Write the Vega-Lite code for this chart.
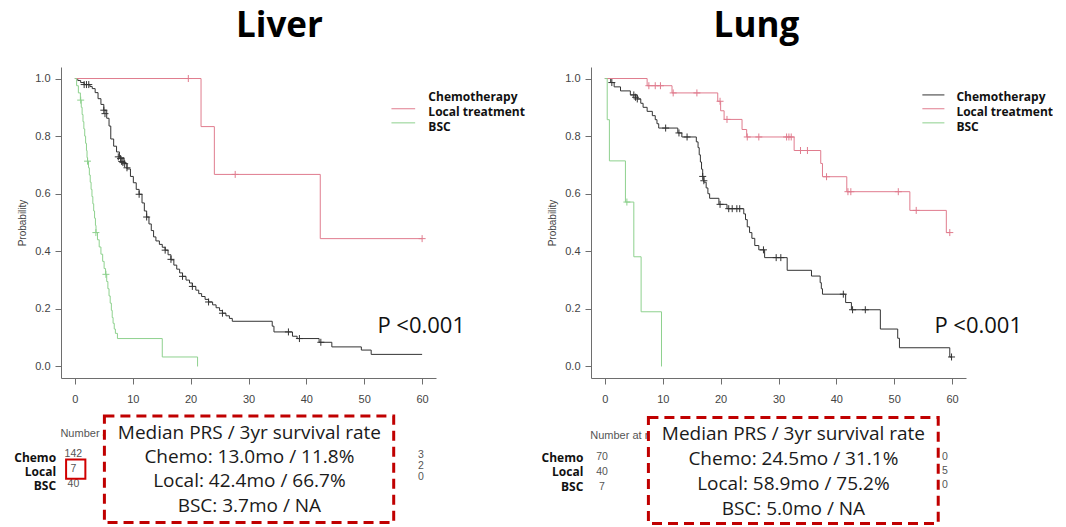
{
  "$schema": "https://vega.github.io/schema/vega-lite/v6.json",
  "background": "white",
  "padding": {"left": 14, "top": 8, "right": 0, "bottom": 0},
  "spacing": 155,
  "bounds": "flush",
  "config": {
    "view": {"stroke": null},
    "font": "Liberation Sans",
    "axis": {"grid": false, "domainColor": "#6e6e6e", "tickColor": "#6e6e6e", "tickSize": 6, "labelColor": "#444444", "labelFont": "Liberation Sans", "labelFontSize": 11, "titleFont": "Liberation Sans", "titleFontWeight": "normal", "titleColor": "#444444", "titleFontSize": 10, "labelFlush": false}
  },
  "datasets": {
    "liverCurves": [
      {"g": "Chemotherapy", "t": 0, "s": 1}, {"g": "Chemotherapy", "t": 0.5, "s": 0.993}, {"g": "Chemotherapy", "t": 1.0, "s": 0.986}, {"g": "Chemotherapy", "t": 1.6, "s": 0.979}, {"g": "Chemotherapy", "t": 2.6, "s": 0.972}, {"g": "Chemotherapy", "t": 3.0, "s": 0.965}, {"g": "Chemotherapy", "t": 3.5, "s": 0.951}, {"g": "Chemotherapy", "t": 4.0, "s": 0.93}, {"g": "Chemotherapy", "t": 4.5, "s": 0.91}, {"g": "Chemotherapy", "t": 5.0, "s": 0.89}, {"g": "Chemotherapy", "t": 5.5, "s": 0.862}, {"g": "Chemotherapy", "t": 5.9, "s": 0.835}, {"g": "Chemotherapy", "t": 6.2, "s": 0.79}, {"g": "Chemotherapy", "t": 6.7, "s": 0.765}, {"g": "Chemotherapy", "t": 7.2, "s": 0.745}, {"g": "Chemotherapy", "t": 7.7, "s": 0.725}, {"g": "Chemotherapy", "t": 8.5, "s": 0.705}, {"g": "Chemotherapy", "t": 9.0, "s": 0.686}, {"g": "Chemotherapy", "t": 9.6, "s": 0.66}, {"g": "Chemotherapy", "t": 10.1, "s": 0.638}, {"g": "Chemotherapy", "t": 10.6, "s": 0.615}, {"g": "Chemotherapy", "t": 11.1, "s": 0.598}, {"g": "Chemotherapy", "t": 11.6, "s": 0.568}, {"g": "Chemotherapy", "t": 12.0, "s": 0.54}, {"g": "Chemotherapy", "t": 12.4, "s": 0.519}, {"g": "Chemotherapy", "t": 12.8, "s": 0.495}, {"g": "Chemotherapy", "t": 13.2, "s": 0.472}, {"g": "Chemotherapy", "t": 13.6, "s": 0.45}, {"g": "Chemotherapy", "t": 14.0, "s": 0.436}, {"g": "Chemotherapy", "t": 14.6, "s": 0.424}, {"g": "Chemotherapy", "t": 15.1, "s": 0.414}, {"g": "Chemotherapy", "t": 15.6, "s": 0.404}, {"g": "Chemotherapy", "t": 16.1, "s": 0.388}, {"g": "Chemotherapy", "t": 16.6, "s": 0.37}, {"g": "Chemotherapy", "t": 17.1, "s": 0.352}, {"g": "Chemotherapy", "t": 17.6, "s": 0.338}, {"g": "Chemotherapy", "t": 18.1, "s": 0.325}, {"g": "Chemotherapy", "t": 18.6, "s": 0.313}, {"g": "Chemotherapy", "t": 19.2, "s": 0.3}, {"g": "Chemotherapy", "t": 19.8, "s": 0.29}, {"g": "Chemotherapy", "t": 20.3, "s": 0.278}, {"g": "Chemotherapy", "t": 20.9, "s": 0.265}, {"g": "Chemotherapy", "t": 21.4, "s": 0.253}, {"g": "Chemotherapy", "t": 21.9, "s": 0.243}, {"g": "Chemotherapy", "t": 22.5, "s": 0.233}, {"g": "Chemotherapy", "t": 23.1, "s": 0.224}, {"g": "Chemotherapy", "t": 23.8, "s": 0.214}, {"g": "Chemotherapy", "t": 24.4, "s": 0.204}, {"g": "Chemotherapy", "t": 25.0, "s": 0.194}, {"g": "Chemotherapy", "t": 25.5, "s": 0.185}, {"g": "Chemotherapy", "t": 26.1, "s": 0.176}, {"g": "Chemotherapy", "t": 26.7, "s": 0.167}, {"g": "Chemotherapy", "t": 27.2, "s": 0.157}, {"g": "Chemotherapy", "t": 34.1, "s": 0.14}, {"g": "Chemotherapy", "t": 34.4, "s": 0.12}, {"g": "Chemotherapy", "t": 37.6, "s": 0.105}, {"g": "Chemotherapy", "t": 38.4, "s": 0.097}, {"g": "Chemotherapy", "t": 42.2, "s": 0.084}, {"g": "Chemotherapy", "t": 44.4, "s": 0.068}, {"g": "Chemotherapy", "t": 49.5, "s": 0.057}, {"g": "Chemotherapy", "t": 51.2, "s": 0.042}, {"g": "Chemotherapy", "t": 60, "s": 0.042},
      {"g": "Local treatment", "t": 0, "s": 1}, {"g": "Local treatment", "t": 21.8, "s": 0.833}, {"g": "Local treatment", "t": 24.1, "s": 0.667}, {"g": "Local treatment", "t": 42.4, "s": 0.444}, {"g": "Local treatment", "t": 60, "s": 0.444},
      {"g": "BSC", "t": 0, "s": 1}, {"g": "BSC", "t": 0.3, "s": 0.975}, {"g": "BSC", "t": 0.6, "s": 0.95}, {"g": "BSC", "t": 0.95, "s": 0.925}, {"g": "BSC", "t": 1.1, "s": 0.9}, {"g": "BSC", "t": 1.25, "s": 0.875}, {"g": "BSC", "t": 1.4, "s": 0.85}, {"g": "BSC", "t": 1.55, "s": 0.825}, {"g": "BSC", "t": 1.7, "s": 0.8}, {"g": "BSC", "t": 1.85, "s": 0.775}, {"g": "BSC", "t": 2.0, "s": 0.75}, {"g": "BSC", "t": 2.1, "s": 0.725}, {"g": "BSC", "t": 2.2, "s": 0.713}, {"g": "BSC", "t": 2.35, "s": 0.69}, {"g": "BSC", "t": 2.5, "s": 0.665}, {"g": "BSC", "t": 2.65, "s": 0.64}, {"g": "BSC", "t": 2.8, "s": 0.615}, {"g": "BSC", "t": 2.95, "s": 0.59}, {"g": "BSC", "t": 3.1, "s": 0.565}, {"g": "BSC", "t": 3.25, "s": 0.54}, {"g": "BSC", "t": 3.4, "s": 0.515}, {"g": "BSC", "t": 3.55, "s": 0.49}, {"g": "BSC", "t": 3.65, "s": 0.465}, {"g": "BSC", "t": 3.9, "s": 0.44}, {"g": "BSC", "t": 4.2, "s": 0.415}, {"g": "BSC", "t": 4.5, "s": 0.39}, {"g": "BSC", "t": 4.8, "s": 0.365}, {"g": "BSC", "t": 5.05, "s": 0.34}, {"g": "BSC", "t": 5.3, "s": 0.32}, {"g": "BSC", "t": 5.5, "s": 0.295}, {"g": "BSC", "t": 5.7, "s": 0.27}, {"g": "BSC", "t": 5.9, "s": 0.245}, {"g": "BSC", "t": 6.1, "s": 0.22}, {"g": "BSC", "t": 6.3, "s": 0.195}, {"g": "BSC", "t": 6.45, "s": 0.17}, {"g": "BSC", "t": 6.6, "s": 0.15}, {"g": "BSC", "t": 6.8, "s": 0.13}, {"g": "BSC", "t": 7.0, "s": 0.115}, {"g": "BSC", "t": 7.35, "s": 0.097}, {"g": "BSC", "t": 15.1, "s": 0.033}, {"g": "BSC", "t": 21.2, "s": 0.0}
    ],
    "liverCensor": [
      {"g": "Chemotherapy", "t": 1.6, "s": 0.979}, {"g": "Chemotherapy", "t": 2.0, "s": 0.979}, {"g": "Chemotherapy", "t": 2.4, "s": 0.979}, {"g": "Chemotherapy", "t": 5.0, "s": 0.89}, {"g": "Chemotherapy", "t": 5.2, "s": 0.878}, {"g": "Chemotherapy", "t": 7.5, "s": 0.728}, {"g": "Chemotherapy", "t": 7.9, "s": 0.722}, {"g": "Chemotherapy", "t": 8.1, "s": 0.712}, {"g": "Chemotherapy", "t": 8.3, "s": 0.708}, {"g": "Chemotherapy", "t": 8.6, "s": 0.704}, {"g": "Chemotherapy", "t": 9.0, "s": 0.69}, {"g": "Chemotherapy", "t": 11.1, "s": 0.598}, {"g": "Chemotherapy", "t": 12.4, "s": 0.519}, {"g": "Chemotherapy", "t": 15.6, "s": 0.404}, {"g": "Chemotherapy", "t": 16.6, "s": 0.372}, {"g": "Chemotherapy", "t": 18.6, "s": 0.313}, {"g": "Chemotherapy", "t": 20.3, "s": 0.278}, {"g": "Chemotherapy", "t": 23.1, "s": 0.224}, {"g": "Chemotherapy", "t": 25.5, "s": 0.185}, {"g": "Chemotherapy", "t": 36.9, "s": 0.12}, {"g": "Chemotherapy", "t": 38.8, "s": 0.097}, {"g": "Chemotherapy", "t": 42.5, "s": 0.084},
      {"g": "Local treatment", "t": 19.6, "s": 1.0}, {"g": "Local treatment", "t": 27.7, "s": 0.667}, {"g": "Local treatment", "t": 60, "s": 0.444},
      {"g": "BSC", "t": 1.0, "s": 0.925}, {"g": "BSC", "t": 2.18, "s": 0.713}, {"g": "BSC", "t": 3.63, "s": 0.465}, {"g": "BSC", "t": 5.36, "s": 0.32}
    ],
    "lungCurves": [
      {"g": "Chemotherapy", "t": 0, "s": 1}, {"g": "Chemotherapy", "t": 1.0, "s": 0.986}, {"g": "Chemotherapy", "t": 1.6, "s": 0.971}, {"g": "Chemotherapy", "t": 2.7, "s": 0.957}, {"g": "Chemotherapy", "t": 4.4, "s": 0.943}, {"g": "Chemotherapy", "t": 5.6, "s": 0.929}, {"g": "Chemotherapy", "t": 6.2, "s": 0.914}, {"g": "Chemotherapy", "t": 6.6, "s": 0.9}, {"g": "Chemotherapy", "t": 7.3, "s": 0.886}, {"g": "Chemotherapy", "t": 8.2, "s": 0.871}, {"g": "Chemotherapy", "t": 8.7, "s": 0.857}, {"g": "Chemotherapy", "t": 9.0, "s": 0.843}, {"g": "Chemotherapy", "t": 9.3, "s": 0.828}, {"g": "Chemotherapy", "t": 12.6, "s": 0.811}, {"g": "Chemotherapy", "t": 13.3, "s": 0.797}, {"g": "Chemotherapy", "t": 15.8, "s": 0.78}, {"g": "Chemotherapy", "t": 16.1, "s": 0.76}, {"g": "Chemotherapy", "t": 16.3, "s": 0.735}, {"g": "Chemotherapy", "t": 16.5, "s": 0.71}, {"g": "Chemotherapy", "t": 16.7, "s": 0.685}, {"g": "Chemotherapy", "t": 16.9, "s": 0.66}, {"g": "Chemotherapy", "t": 17.1, "s": 0.64}, {"g": "Chemotherapy", "t": 17.5, "s": 0.62}, {"g": "Chemotherapy", "t": 17.8, "s": 0.6}, {"g": "Chemotherapy", "t": 18.1, "s": 0.584}, {"g": "Chemotherapy", "t": 19.7, "s": 0.563}, {"g": "Chemotherapy", "t": 21.1, "s": 0.548}, {"g": "Chemotherapy", "t": 24.0, "s": 0.53}, {"g": "Chemotherapy", "t": 24.3, "s": 0.51}, {"g": "Chemotherapy", "t": 24.6, "s": 0.485}, {"g": "Chemotherapy", "t": 25.0, "s": 0.465}, {"g": "Chemotherapy", "t": 25.4, "s": 0.445}, {"g": "Chemotherapy", "t": 25.9, "s": 0.42}, {"g": "Chemotherapy", "t": 26.6, "s": 0.405}, {"g": "Chemotherapy", "t": 27.6, "s": 0.378}, {"g": "Chemotherapy", "t": 31.5, "s": 0.334}, {"g": "Chemotherapy", "t": 35.7, "s": 0.314}, {"g": "Chemotherapy", "t": 37.2, "s": 0.291}, {"g": "Chemotherapy", "t": 37.4, "s": 0.27}, {"g": "Chemotherapy", "t": 37.6, "s": 0.251}, {"g": "Chemotherapy", "t": 41.6, "s": 0.222}, {"g": "Chemotherapy", "t": 42.6, "s": 0.197}, {"g": "Chemotherapy", "t": 47.6, "s": 0.13}, {"g": "Chemotherapy", "t": 50.6, "s": 0.098}, {"g": "Chemotherapy", "t": 50.9, "s": 0.065}, {"g": "Chemotherapy", "t": 59.6, "s": 0.033}, {"g": "Chemotherapy", "t": 60, "s": 0.033},
      {"g": "Local treatment", "t": 0, "s": 1}, {"g": "Local treatment", "t": 7.3, "s": 0.975}, {"g": "Local treatment", "t": 11.6, "s": 0.95}, {"g": "Local treatment", "t": 19.5, "s": 0.921}, {"g": "Local treatment", "t": 20.0, "s": 0.888}, {"g": "Local treatment", "t": 20.6, "s": 0.858}, {"g": "Local treatment", "t": 23.7, "s": 0.823}, {"g": "Local treatment", "t": 24.5, "s": 0.797}, {"g": "Local treatment", "t": 32.7, "s": 0.75}, {"g": "Local treatment", "t": 37.3, "s": 0.705}, {"g": "Local treatment", "t": 37.6, "s": 0.659}, {"g": "Local treatment", "t": 41.8, "s": 0.607}, {"g": "Local treatment", "t": 52.7, "s": 0.542}, {"g": "Local treatment", "t": 59.0, "s": 0.465}, {"g": "Local treatment", "t": 59.6, "s": 0.465},
      {"g": "BSC", "t": 0, "s": 1}, {"g": "BSC", "t": 0.4, "s": 0.857}, {"g": "BSC", "t": 0.78, "s": 0.714}, {"g": "BSC", "t": 3.55, "s": 0.571}, {"g": "BSC", "t": 5.0, "s": 0.381}, {"g": "BSC", "t": 6.26, "s": 0.19}, {"g": "BSC", "t": 9.78, "s": 0.0}
    ],
    "lungCensor": [
      {"g": "Chemotherapy", "t": 1.2, "s": 0.986}, {"g": "Chemotherapy", "t": 5.0, "s": 0.943}, {"g": "Chemotherapy", "t": 5.3, "s": 0.935}, {"g": "Chemotherapy", "t": 5.6, "s": 0.929}, {"g": "Chemotherapy", "t": 10.5, "s": 0.828}, {"g": "Chemotherapy", "t": 12.8, "s": 0.811}, {"g": "Chemotherapy", "t": 14.2, "s": 0.797}, {"g": "Chemotherapy", "t": 16.9, "s": 0.66}, {"g": "Chemotherapy", "t": 17.1, "s": 0.645}, {"g": "Chemotherapy", "t": 19.9, "s": 0.563}, {"g": "Chemotherapy", "t": 21.4, "s": 0.548}, {"g": "Chemotherapy", "t": 22.0, "s": 0.548}, {"g": "Chemotherapy", "t": 22.8, "s": 0.548}, {"g": "Chemotherapy", "t": 23.3, "s": 0.548}, {"g": "Chemotherapy", "t": 27.4, "s": 0.405}, {"g": "Chemotherapy", "t": 29.6, "s": 0.378}, {"g": "Chemotherapy", "t": 30.4, "s": 0.378}, {"g": "Chemotherapy", "t": 41.2, "s": 0.251}, {"g": "Chemotherapy", "t": 42.8, "s": 0.197}, {"g": "Chemotherapy", "t": 45.0, "s": 0.197}, {"g": "Chemotherapy", "t": 59.9, "s": 0.033},
      {"g": "Local treatment", "t": 7.6, "s": 0.975}, {"g": "Local treatment", "t": 8.7, "s": 0.975}, {"g": "Local treatment", "t": 9.6, "s": 0.975}, {"g": "Local treatment", "t": 11.8, "s": 0.95}, {"g": "Local treatment", "t": 15.9, "s": 0.95}, {"g": "Local treatment", "t": 19.9, "s": 0.921}, {"g": "Local treatment", "t": 21.1, "s": 0.858}, {"g": "Local treatment", "t": 24.6, "s": 0.797}, {"g": "Local treatment", "t": 26.6, "s": 0.797}, {"g": "Local treatment", "t": 31.4, "s": 0.797}, {"g": "Local treatment", "t": 31.8, "s": 0.797}, {"g": "Local treatment", "t": 32.2, "s": 0.797}, {"g": "Local treatment", "t": 33.8, "s": 0.75}, {"g": "Local treatment", "t": 35.0, "s": 0.75}, {"g": "Local treatment", "t": 38.3, "s": 0.659}, {"g": "Local treatment", "t": 42.0, "s": 0.607}, {"g": "Local treatment", "t": 42.5, "s": 0.607}, {"g": "Local treatment", "t": 50.7, "s": 0.607}, {"g": "Local treatment", "t": 53.8, "s": 0.542}, {"g": "Local treatment", "t": 59.6, "s": 0.465},
      {"g": "BSC", "t": 3.8, "s": 0.571}
    ]
  },
  "hconcat": [
    {
      "width": 375,
      "height": 311,
      "layer": [
        {
          "data": {"name": "liverCurves"},
          "mark": {"type": "line", "interpolate": "step-after", "strokeWidth": 1},
          "encoding": {
            "x": {"field": "t", "type": "quantitative", "scale": {"domain": [-2.4, 62.4], "nice": false, "zero": false}, "axis": {"values": [0, 10, 20, 30, 40, 50, 60], "title": null, "labelPadding": 9}},
            "y": {"field": "s", "type": "quantitative", "scale": {"domain": [-0.04, 1.04], "nice": false, "zero": false}, "axis": {"values": [0, 0.2, 0.4, 0.6, 0.8, 1], "format": ".1f", "title": "Probability", "labelPadding": 5, "titlePadding": 7}},
            "color": {"field": "g", "type": "nominal", "scale": {"domain": ["Chemotherapy", "Local treatment", "BSC"], "range": ["#333333", "#e07c8e", "#8ed18e"]}, "legend": null}
          }
        },
        {
          "data": {"name": "liverCensor"},
          "mark": {"type": "point", "shape": "M-1,0L1,0M0,-1L0,1", "filled": false, "size": 49, "strokeWidth": 1, "opacity": 1},
          "encoding": {
            "x": {"field": "t", "type": "quantitative"},
            "y": {"field": "s", "type": "quantitative"},
            "color": {"field": "g", "type": "nominal", "legend": null}
          }
        },
        {
          "data": {"values": [{}]},
          "mark": {"type": "text", "align": "left", "baseline": "middle", "font": "Liberation Sans", "fontSize": 11, "color": "#555555", "text": "Number at risk"},
          "encoding": {"x": {"datum": -2.5}, "y": {"datum": -0.233}}
        },
        {
          "data": {"values": [{}]},
          "mark": {"type": "rect", "fill": "white", "stroke": "#c00000", "strokeWidth": 3, "strokeDash": [10, 6]},
          "encoding": {"x": {"datum": 5.1}, "x2": {"datum": 55.09}, "y": {"datum": -0.172}, "y2": {"datum": -0.542}}
        },
        {
          "data": {"values": [{}]},
          "mark": {"type": "text", "align": "center", "baseline": "middle", "font": "Open Sans", "fontSize": 19, "color": "#1a1a1a", "lineHeight": 24.3, "text": ["Median PRS / 3yr survival rate", "Chemo: 13.0mo / 11.8%", "Local: 42.4mo  / 66.7%", "BSC: 3.7mo / NA"]},
          "encoding": {"x": {"datum": 30.15}, "y": {"datum": -0.23}}
        },
        {
          "data": {"values": [{}]},
          "mark": {"type": "text", "align": "right", "baseline": "middle", "font": "Open Sans", "fontWeight": "bold", "fontSize": 12, "color": "#111111", "lineHeight": 14.2, "text": ["Chemo", "Local", "BSC"]},
          "encoding": {"x": {"datum": -3.25}, "y": {"datum": -0.3167}}
        },
        {
          "data": {"values": [{}]},
          "mark": {"type": "text", "align": "center", "baseline": "middle", "font": "Liberation Sans", "fontSize": 10.5, "color": "#555555", "lineHeight": 14.7, "text": ["142", "7", "40"]},
          "encoding": {"x": {"datum": -0.26}, "y": {"datum": -0.3053}}
        },
        {
          "data": {"values": [{}]},
          "mark": {"type": "rect", "fill": null, "fillOpacity": 0, "stroke": "#d00000", "strokeWidth": 2},
          "encoding": {"x": {"datum": -1.52}, "x2": {"datum": 1.81}, "y": {"datum": -0.323}, "y2": {"datum": -0.39}}
        },
        {
          "data": {"values": [{}]},
          "mark": {"type": "text", "align": "center", "baseline": "middle", "font": "Liberation Sans", "fontSize": 10.5, "color": "#555555", "lineHeight": 10.8, "text": ["3", "2", "0"]},
          "encoding": {"x": {"datum": 59.8}, "y": {"datum": -0.3087}}
        },
        {
          "data": {"values": [{}]},
          "mark": {"type": "rule", "color": "#e07c8e", "strokeWidth": 1},
          "encoding": {"x": {"datum": 54.7}, "x2": {"datum": 58.8}, "y": {"datum": 0.895}}
        },
        {
          "data": {"values": [{}]},
          "mark": {"type": "rule", "color": "#8ed18e", "strokeWidth": 1},
          "encoding": {"x": {"datum": 54.7}, "x2": {"datum": 58.8}, "y": {"datum": 0.846}}
        },
        {
          "data": {"values": [{}]},
          "mark": {"type": "text", "align": "left", "baseline": "middle", "font": "Open Sans", "fontWeight": "bold", "fontSize": 12, "color": "#111111", "lineHeight": 15, "text": ["Chemotherapy", "Local treatment", "BSC"]},
          "encoding": {"x": {"datum": 61.08}, "y": {"datum": 0.9365}}
        },
        {
          "data": {"values": [{}]},
          "mark": {"type": "text", "align": "left", "baseline": "middle", "font": "Open Sans", "fontSize": 22, "color": "#111111", "text": "P <0.001"},
          "encoding": {"x": {"datum": 52.27}, "y": {"datum": 0.14}}
        },
        {
          "data": {"values": [{}]},
          "mark": {"type": "text", "align": "center", "baseline": "middle", "font": "Open Sans", "fontWeight": "bold", "fontSize": 35, "color": "#000000", "text": "Liver"},
          "encoding": {"x": {"datum": 35.34}, "y": {"datum": 1.183}}
        }
      ]
    },
    {
      "width": 375,
      "height": 311,
      "layer": [
        {
          "data": {"name": "lungCurves"},
          "mark": {"type": "line", "interpolate": "step-after", "strokeWidth": 1},
          "encoding": {
            "x": {"field": "t", "type": "quantitative", "scale": {"domain": [-2.4, 62.4], "nice": false, "zero": false}, "axis": {"values": [0, 10, 20, 30, 40, 50, 60], "title": null, "labelPadding": 9}},
            "y": {"field": "s", "type": "quantitative", "scale": {"domain": [-0.04, 1.04], "nice": false, "zero": false}, "axis": {"values": [0, 0.2, 0.4, 0.6, 0.8, 1], "format": ".1f", "title": "Probability", "labelPadding": 5, "titlePadding": 7}},
            "color": {"field": "g", "type": "nominal", "scale": {"domain": ["Chemotherapy", "Local treatment", "BSC"], "range": ["#333333", "#e07c8e", "#8ed18e"]}, "legend": null}
          }
        },
        {
          "data": {"name": "lungCensor"},
          "mark": {"type": "point", "shape": "M-1,0L1,0M0,-1L0,1", "filled": false, "size": 49, "strokeWidth": 1, "opacity": 1},
          "encoding": {
            "x": {"field": "t", "type": "quantitative"},
            "y": {"field": "s", "type": "quantitative"},
            "color": {"field": "g", "type": "nominal", "legend": null}
          }
        },
        {
          "data": {"values": [{}]},
          "mark": {"type": "text", "align": "left", "baseline": "middle", "font": "Liberation Sans", "fontSize": 11, "color": "#555555", "text": "Number at risk"},
          "encoding": {"x": {"datum": -2.53}, "y": {"datum": -0.242}}
        },
        {
          "data": {"values": [{}]},
          "mark": {"type": "rect", "fill": "white", "stroke": "#c00000", "strokeWidth": 3, "strokeDash": [10, 6]},
          "encoding": {"x": {"datum": 7.52}, "x2": {"datum": 57.6}, "y": {"datum": -0.177}, "y2": {"datum": -0.545}}
        },
        {
          "data": {"values": [{}]},
          "mark": {"type": "text", "align": "center", "baseline": "middle", "font": "Open Sans", "fontSize": 19, "color": "#1a1a1a", "lineHeight": 24.8, "text": ["Median PRS / 3yr survival rate", "Chemo: 24.5mo / 31.1%", "Local: 58.9mo  / 75.2%", "BSC: 5.0mo / NA"]},
          "encoding": {"x": {"datum": 32.57}, "y": {"datum": -0.236}}
        },
        {
          "data": {"values": [{}]},
          "mark": {"type": "text", "align": "right", "baseline": "middle", "font": "Open Sans", "fontWeight": "bold", "fontSize": 12, "color": "#111111", "lineHeight": 14.8, "text": ["Chemo", "Local", "BSC"]},
          "encoding": {"x": {"datum": -3.72}, "y": {"datum": -0.3163}}
        },
        {
          "data": {"values": [{}]},
          "mark": {"type": "text", "align": "center", "baseline": "middle", "font": "Liberation Sans", "fontSize": 10.5, "color": "#555555", "lineHeight": 14.6, "text": ["70", "40", "7"]},
          "encoding": {"x": {"datum": -0.5}, "y": {"datum": -0.316}}
        },
        {
          "data": {"values": [{}]},
          "mark": {"type": "text", "align": "center", "baseline": "middle", "font": "Liberation Sans", "fontSize": 10.5, "color": "#555555", "lineHeight": 14, "text": ["0", "5", "0"]},
          "encoding": {"x": {"datum": 58.75}, "y": {"datum": -0.316}}
        },
        {
          "data": {"values": [{}]},
          "mark": {"type": "rule", "color": "#333333", "strokeWidth": 1},
          "encoding": {"x": {"datum": 54.86}, "x2": {"datum": 58.67}, "y": {"datum": 0.943}}
        },
        {
          "data": {"values": [{}]},
          "mark": {"type": "rule", "color": "#e07c8e", "strokeWidth": 1},
          "encoding": {"x": {"datum": 54.86}, "x2": {"datum": 58.67}, "y": {"datum": 0.895}}
        },
        {
          "data": {"values": [{}]},
          "mark": {"type": "rule", "color": "#8ed18e", "strokeWidth": 1},
          "encoding": {"x": {"datum": 54.86}, "x2": {"datum": 58.67}, "y": {"datum": 0.846}}
        },
        {
          "data": {"values": [{}]},
          "mark": {"type": "text", "align": "left", "baseline": "middle", "font": "Open Sans", "fontWeight": "bold", "fontSize": 12, "color": "#111111", "lineHeight": 15, "text": ["Chemotherapy", "Local treatment", "BSC"]},
          "encoding": {"x": {"datum": 60.74}, "y": {"datum": 0.9365}}
        },
        {
          "data": {"values": [{}]},
          "mark": {"type": "text", "align": "left", "baseline": "middle", "font": "Open Sans", "fontSize": 22, "color": "#111111", "text": "P <0.001"},
          "encoding": {"x": {"datum": 56.94}, "y": {"datum": 0.14}}
        },
        {
          "data": {"values": [{}]},
          "mark": {"type": "text", "align": "center", "baseline": "middle", "font": "Open Sans", "fontWeight": "bold", "fontSize": 35, "color": "#000000", "text": "Lung"},
          "encoding": {"x": {"datum": 26.18}, "y": {"datum": 1.183}}
        }
      ]
    }
  ]
}
